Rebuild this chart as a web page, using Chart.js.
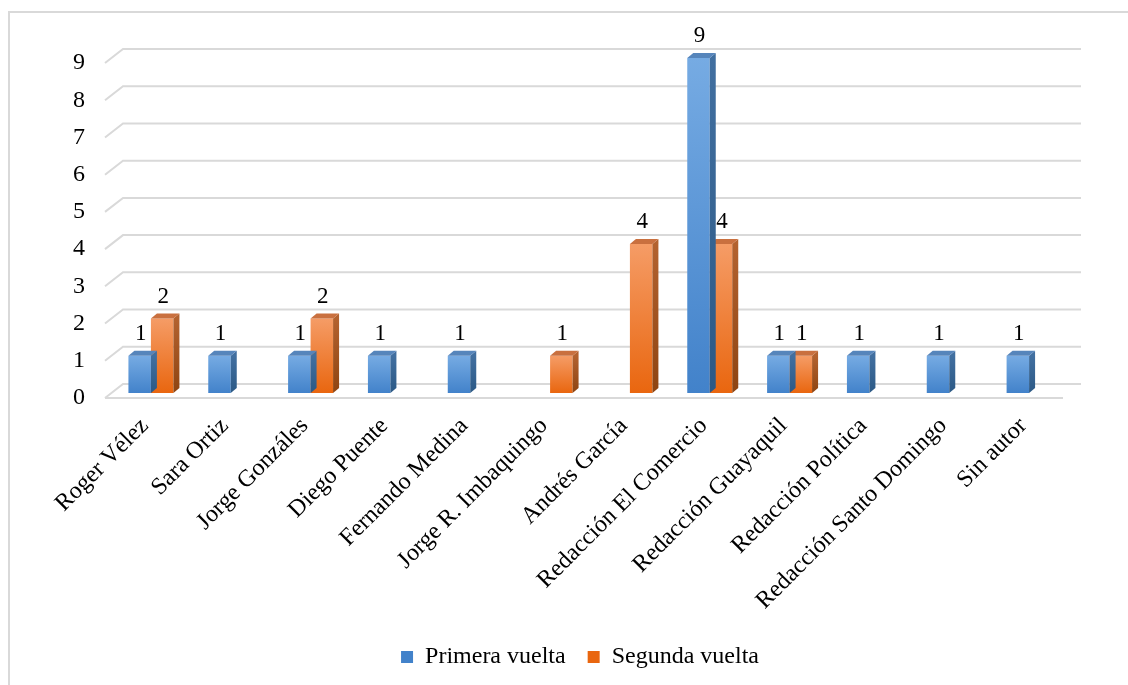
<!DOCTYPE html>
<html lang="es">
<head>
<meta charset="utf-8">
<title>Autores por vuelta</title>
<script src="https://cdn.jsdelivr.net/npm/chart.js@4.4.1/dist/chart.umd.min.js"></script>
<style>
    html, body { margin: 0; padding: 0; background: #ffffff; }
    canvas { display: block; }
</style>
</head>
<body>
<canvas id="grafico" width="1128" height="685"></canvas>
<script>
// Datos del gráfico
var autores = ['Roger Vélez', 'Sara Ortiz', 'Jorge Gonzáles', 'Diego Puente', 'Fernando Medina',
    'Jorge R. Imbaquingo', 'Andrés García', 'Redacción El Comercio', 'Redacción Guayaquil',
    'Redacción Política', 'Redacción Santo Domingo', 'Sin autor'];
var primeraVuelta = [1, 1, 1, 1, 1, null, null, 9, 1, 1, 1, 1];
var segundaVuelta = [2, null, 2, null, null, 1, 4, 4, 1, null, null, null];
var marcasEje = [0, 1, 2, 3, 4, 5, 6, 7, 8, 9];

// Profundidad de la pared del fondo y de las barras (efecto 3D)
var FONDO_X = 18, FONDO_Y = 14;
var BARRA_X = 6, BARRA_Y = 5;
var FUENTE = '"Liberation Serif", "Times New Roman", serif';
var GRIS = '#d9d9d9';

// Colores de cada serie: cara frontal (claro/oscuro), lateral y superior
var colores = {
    azul:    { claro: '#76abe3', oscuro: '#4282ca', lado1: '#416fa0', lado2: '#2c5985', arriba: '#5685bb', plano: '#5b9bd5' },
    naranja: { claro: '#f59c66', oscuro: '#e9660f', lado1: '#b3622f', lado2: '#8e4411', arriba: '#c9703f', plano: '#ed7d31' }
};

// Relleno degradado de la cara frontal de cada barra
function rellenoFrontal(c) {
    return function(ctx) {
        if (ctx.type !== 'data' || ctx.raw === null || !ctx.chart.chartArea) return c.plano;
        var ejeY = ctx.chart.scales.y;
        var arriba = ejeY.getPixelForValue(ctx.raw);
        var abajo = ejeY.getPixelForValue(0);
        var g = ctx.chart.ctx.createLinearGradient(0, arriba, 0, abajo);
        g.addColorStop(0, c.claro);
        g.addColorStop(1, c.oscuro);
        return g;
    };
}

function poligono(ctx, puntos, relleno) {
    ctx.beginPath();
    ctx.moveTo(puntos[0][0], puntos[0][1]);
    for (var i = 1; i < puntos.length; i++) ctx.lineTo(puntos[i][0], puntos[i][1]);
    ctx.closePath();
    ctx.fillStyle = relleno;
    ctx.fill();
}

// Plugin que dibuja el marco, las paredes y las caras laterales de las barras
var efecto3d = {
    id: 'efecto3d',
    afterLayout: function(chart) {
        // la leyenda se centra bajo el área de las barras
        var centro = (chart.chartArea.left + chart.chartArea.right) / 2 - 4;
        var desplazamiento = centro - (chart.legend.left + chart.legend.right) / 2;
        chart.legend.left += desplazamiento;
        chart.legend.right += desplazamiento;
    },
    beforeDraw: function(chart) {
        var ctx = chart.ctx;
        var area = chart.chartArea;
        var ejeY = chart.scales.y;
        ctx.save();
        // Marco exterior
        ctx.strokeStyle = GRIS;
        ctx.lineWidth = 2;
        ctx.beginPath();
        ctx.moveTo(9, chart.height);
        ctx.lineTo(9, 12);
        ctx.lineTo(chart.width, 12);
        ctx.stroke();
        // Líneas de la pared del fondo y de la pared lateral
        marcasEje.forEach(function(v) {
            var y = ejeY.getPixelForValue(v);
            ctx.beginPath();
            ctx.moveTo(area.left, y);
            ctx.lineTo(area.left + FONDO_X, y - FONDO_Y);
            ctx.lineTo(area.right + FONDO_X, y - FONDO_Y);
            ctx.stroke();
        });
        // Borde frontal del piso
        var y0 = ejeY.getPixelForValue(0);
        ctx.beginPath();
        ctx.moveTo(area.left, y0);
        ctx.lineTo(area.right, y0);
        ctx.stroke();
        ctx.restore();
    },
    beforeDatasetsDraw: function(chart) {
        chart.ctx.save();
        chart.ctx.translate(BARRA_X, -BARRA_Y);
    },
    afterDatasetDraw: function(chart, args) {
        var ctx = chart.ctx;
        var c = chart.data.datasets[args.index].colores3d;
        var datos = chart.data.datasets[args.index].data;
        args.meta.data.forEach(function(barra, i) {
            if (datos[i] === null) return;
            var p = barra.getProps(['x', 'y', 'base', 'width'], true);
            var izq = p.x - p.width / 2, der = p.x + p.width / 2;
            var g = ctx.createLinearGradient(0, p.y, 0, p.base);
            g.addColorStop(0, c.lado1);
            g.addColorStop(1, c.lado2);
            poligono(ctx, [[der, p.y], [der + BARRA_X, p.y - BARRA_Y], [der + BARRA_X, p.base - BARRA_Y], [der, p.base]], g);
            poligono(ctx, [[izq, p.y], [izq + BARRA_X, p.y - BARRA_Y], [der + BARRA_X, p.y - BARRA_Y], [der, p.y]], c.arriba);
        });
    },
    afterDatasetsDraw: function(chart) {
        var ctx = chart.ctx;
        // Etiquetas con el valor encima de cada barra
        ctx.font = '23px ' + FUENTE;
        ctx.fillStyle = '#000000';
        ctx.textAlign = 'center';
        ctx.textBaseline = 'alphabetic';
        chart.data.datasets.forEach(function(ds, d) {
            chart.getDatasetMeta(d).data.forEach(function(barra, i) {
                if (ds.data[i] === null) return;
                var p = barra.getProps(['x', 'y'], true);
                ctx.fillText(String(ds.data[i]), p.x + 1, p.y - 16);
            });
        });
        ctx.restore();
    }
};

var ctxGrafico = document.getElementById('grafico').getContext('2d');
var grafico = new Chart(ctxGrafico, {
    type: 'bar',
    data: {
        labels: autores,
        datasets: [{
            label: 'Primera vuelta',
            data: primeraVuelta,
            backgroundColor: rellenoFrontal(colores.azul),
            colores3d: colores.azul,
            borderWidth: 0,
            clip: false
        }, {
            label: 'Segunda vuelta',
            data: segundaVuelta,
            backgroundColor: rellenoFrontal(colores.naranja),
            colores3d: colores.naranja,
            borderWidth: 0,
            clip: false
        }]
    },
    options: {
        responsive: false,
        animation: false,
        devicePixelRatio: 1,
        events: [],
        layout: { padding: { top: 63, left: 65, right: 65, bottom: 6 } },
        datasets: {
            bar: { categoryPercentage: 0.5635, barPercentage: 1 }
        },
        scales: {
            x: {
                grid: { display: false, drawTicks: false },
                border: { display: false },
                ticks: {
                    autoSkip: false,
                    minRotation: 45,
                    maxRotation: 45,
                    padding: 14,
                    color: '#000000',
                    font: { family: FUENTE, size: 24 }
                },
                afterFit: function(eje) { eje.height = 225; }
            },
            y: {
                min: 0,
                max: 9,
                grid: { display: false, drawTicks: false },
                border: { display: false },
                ticks: {
                    padding: 20,
                    color: '#000000',
                    font: { family: FUENTE, size: 24 }
                },
                afterBuildTicks: function(eje) {
                    eje.ticks = marcasEje.map(function(v) { return { value: v }; });
                },
                afterFit: function(eje) { eje.width = 40; }
            }
        },
        plugins: {
            legend: {
                position: 'bottom',
                labels: {
                    boxWidth: 12,
                    boxHeight: 12,
                    padding: 22,
                    color: '#000000',
                    font: { family: FUENTE, size: 24 }
                }
            },
            tooltip: { enabled: false }
        }
    },
    plugins: [efecto3d]
});
</script>
</body>
</html>
